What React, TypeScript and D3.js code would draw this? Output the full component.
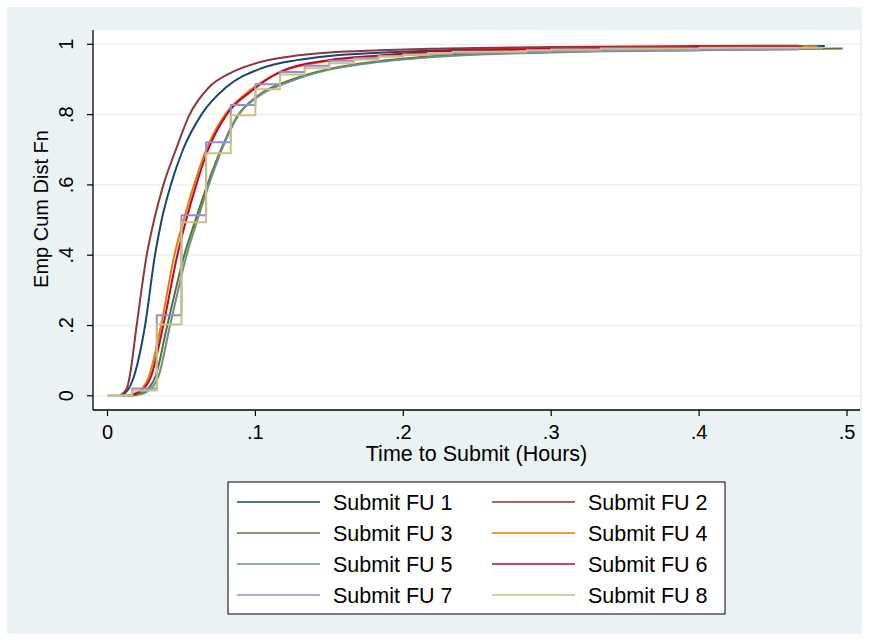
import React from "react";
import * as d3 from "d3";

// ---------- DATA ----------
const seriesNames = [
  "Submit FU 1", "Submit FU 2", "Submit FU 3", "Submit FU 4",
  "Submit FU 5", "Submit FU 6", "Submit FU 7", "Submit FU 8",
];

// continuous ECDFs: [hours, cumulative share]
const fu1: [number, number][] = [
  [0.01, 0], [0.0175, 0.05], [0.0254, 0.2], [0.0321, 0.4], [0.0366, 0.5], [0.0428, 0.6],
  [0.051, 0.7], [0.0635, 0.8], [0.0806, 0.879], [0.103, 0.93],
  [0.128, 0.955], [0.15, 0.967], [0.184, 0.976], [0.218, 0.982], [0.3, 0.988],
  [0.4, 0.992], [0.485, 0.995],
];
const fu2: [number, number][] = [
  [0.008, 0], [0.013, 0.02], [0.0148, 0.05], [0.0197, 0.2], [0.0265, 0.4], [0.0315, 0.5],
  [0.0378, 0.6], [0.0462, 0.7], [0.0555, 0.8], [0.068, 0.875],
  [0.085, 0.922], [0.1053, 0.952], [0.128, 0.968], [0.15, 0.977], [0.184, 0.983],
  [0.218, 0.987], [0.3, 0.992], [0.4, 0.995], [0.467, 0.996],
];
const fu3: [number, number][] = [
  [0.014, 0], [0.024, 0.01], [0.032, 0.05], [0.0404, 0.2], [0.0519, 0.4], [0.0595, 0.5],
  [0.0675, 0.6], [0.0767, 0.7], [0.0885, 0.8], [0.1005, 0.85], [0.125, 0.9],
  [0.15, 0.93], [0.184, 0.952], [0.218, 0.965],
  [0.3, 0.978], [0.4, 0.984], [0.497, 0.988],
];
const fu4: [number, number][] = [
  [0.012, 0], [0.02, 0.01], [0.0276, 0.05], [0.0362, 0.2], [0.0452, 0.4], [0.0515, 0.5],
  [0.0585, 0.6], [0.0667, 0.7], [0.0795, 0.8], [0.0963, 0.869],
  [0.1166, 0.92], [0.15, 0.953], [0.184, 0.967], [0.218, 0.977], [0.3, 0.987],
  [0.4, 0.992], [0.48, 0.994],
];
const fu5: [number, number][] = [
  [0.016, 0], [0.026, 0.01], [0.034, 0.05], [0.0423, 0.2], [0.0535, 0.4], [0.0608, 0.5],
  [0.0685, 0.6], [0.0772, 0.7], [0.0888, 0.8], [0.101, 0.849], [0.126, 0.898],
  [0.15, 0.928], [0.184, 0.95], [0.218, 0.963],
  [0.3, 0.977], [0.4, 0.983], [0.48, 0.987],
];
const fu6: [number, number][] = [
  [0.014, 0], [0.021, 0.01], [0.029, 0.05], [0.0377, 0.2], [0.0472, 0.4], [0.0532, 0.5],
  [0.06, 0.6], [0.068, 0.7], [0.0805, 0.8], [0.098, 0.869],
  [0.117, 0.922], [0.15, 0.955], [0.184, 0.968], [0.218, 0.978], [0.3, 0.987],
  [0.4, 0.992], [0.47, 0.994],
];

// discrete ECDFs (whole minutes)
const fu7Minutes = [0, 1, 2, 3, 4, 5, 6, 7, 8, 9, 10, 11, 12, 13, 14, 15, 17, 18, 20, 24, 28];
const fu7Values = [0.001, 0.021, 0.229, 0.514, 0.721, 0.827, 0.886, 0.921, 0.939, 0.953, 0.96, 0.966,
  0.970, 0.973, 0.975, 0.977, 0.979, 0.981, 0.983, 0.985, 0.988];
const fu8Minutes = [0, 1, 2, 3, 4, 5, 6, 7, 8, 9, 10, 11, 12, 13, 14, 17, 18, 20, 24, 29];
const fu8Values = [0.001, 0.015, 0.203, 0.494, 0.69, 0.798, 0.872, 0.914, 0.932, 0.946, 0.957, 0.965,
  0.970, 0.975, 0.979, 0.983, 0.985, 0.988, 0.990, 0.992];

const xTicks = [0, 0.1, 0.2, 0.3, 0.4, 0.5];
const xTickLabels = ["0", ".1", ".2", ".3", ".4", ".5"];
const yTicks = [0, 0.2, 0.4, 0.6, 0.8, 1];
const yTickLabels = ["0", ".2", ".4", ".6", ".8", "1"];

const colors = ["#1a476f", "#90353b", "#55752f", "#e37e00", "#6e8e84", "#c10534", "#938dd2", "#cac27e"];

// ---------- LAYOUT ----------
const W = 869, H = 642;
const plotL = 93, plotR = 860, plotT = 30, plotB = 410;
const FONT = "'Liberation Sans', Arial, Helvetica, sans-serif";

export default function App() {
  const x = d3.scaleLinear().domain([0, 0.5]).range([107.5, 847]);
  const y = d3.scaleLinear().domain([0, 1]).range([395.8, 44.3]);

  const smooth = d3.line<[number, number]>()
    .x(d => x(d[0])).y(d => y(d[1])).curve(d3.curveMonotoneX);
  const step = d3.line<[number, number]>()
    .x(d => x(d[0])).y(d => y(d[1])).curve(d3.curveStepAfter);

  const fu7: [number, number][] = fu7Minutes.map((m, i) => [m / 60, fu7Values[i]]);
  const fu8: [number, number][] = fu8Minutes.map((m, i) => [m / 60, fu8Values[i]]);

  const paths = [
    smooth(fu1), smooth(fu2), smooth(fu3), smooth(fu4),
    smooth(fu5), smooth(fu6), step(fu7), step(fu8),
  ];

  const legX = [237, 492];
  const legRows = [502, 533, 564, 595];

  return (
    <svg width={W} height={H} style={{ position: "absolute", left: 0, top: 0, display: "block" }}
      fontFamily={FONT}>
      <rect x={0} y={0} width={W} height={H} fill="#ffffff" />
      <rect x={7} y={7} width={855} height={627} fill="#eaf2f3" />
      <rect x={plotL} y={plotT} width={plotR - plotL} height={plotB - plotT} fill="#ffffff" />
      {yTicks.map(t => (
        <line key={"g" + t} x1={plotL} x2={plotR} y1={y(t)} y2={y(t)} stroke="#eaf2f3" strokeWidth={1.5} />
      ))}
      {paths.map((p, i) => (
        <path key={i} d={p || ""} fill="none" stroke={colors[i]} strokeWidth={2} strokeLinejoin="round" />
      ))}
      {/* axes */}
      <line x1={plotL} x2={plotL} y1={plotT} y2={plotB} stroke="#000" strokeWidth={1.3} />
      <line x1={plotL} x2={plotR} y1={plotB} y2={plotB} stroke="#000" strokeWidth={1.3} />
      {yTicks.map((t, i) => (
        <g key={"y" + t}>
          <line x1={plotL - 6} x2={plotL} y1={y(t)} y2={y(t)} stroke="#000" strokeWidth={1.2} />
          <text transform={`translate(73,${y(t)}) rotate(-90)`} textAnchor="middle" fontSize={20} fill="#000">
            {yTickLabels[i]}
          </text>
        </g>
      ))}
      {xTicks.map((t, i) => (
        <g key={"x" + t}>
          <line x1={x(t)} x2={x(t)} y1={plotB} y2={plotB + 6} stroke="#000" strokeWidth={1.2} />
          <text x={x(t)} y={439} textAnchor="middle" fontSize={20} fill="#000">{xTickLabels[i]}</text>
        </g>
      ))}
      <text x={(plotL + plotR) / 2} y={461} textAnchor="middle" fontSize={21.5} fill="#000">
        Time to Submit (Hours)
      </text>
      <text transform={`translate(47.5,209) rotate(-90)`} textAnchor="middle" fontSize={20} fill="#000">
        Emp Cum Dist Fn
      </text>
      {/* legend */}
      <rect x={228} y={482} width={497} height={132} fill="#ffffff" stroke="#000" strokeWidth={1} />
      {seriesNames.map((name, i) => {
        const col = i % 2, row = Math.floor(i / 2);
        const lx = legX[col], ly = legRows[row];
        return (
          <g key={name}>
            <line x1={lx} x2={lx + 83} y1={ly} y2={ly} stroke={colors[i]} strokeWidth={1.6} />
            <text x={lx + 96} y={ly + 7.5} fontSize={21.5} fill="#000">{name}</text>
          </g>
        );
      })}
    </svg>
  );
}
